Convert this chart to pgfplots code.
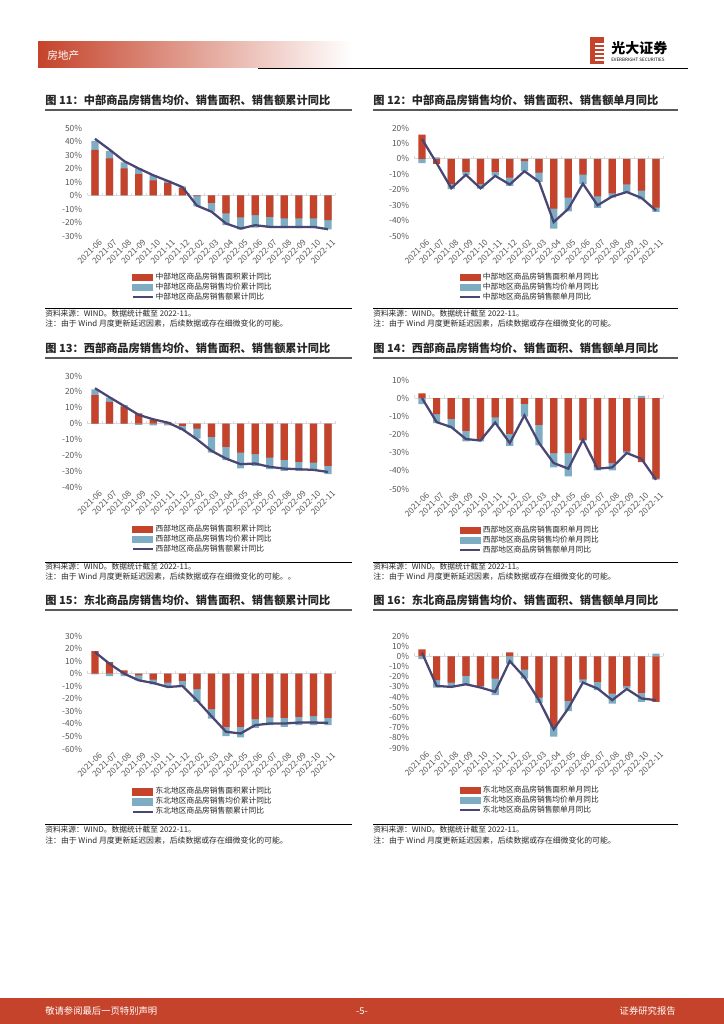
\documentclass[border=0pt]{standalone}
\usepackage{fontspec}
\setmainfont{Noto Sans CJK SC}
\usepackage{pgfplots}
\pgfplotsset{compat=1.18}
\usepackage{pgfplotstable}

\definecolor{cred}{HTML}{C5432A}
\definecolor{cblue}{HTML}{7EADC3}
\definecolor{cline}{HTML}{4A4674}
\definecolor{tgray}{HTML}{595959}
\definecolor{tdark}{HTML}{262626}
\definecolor{zgray}{HTML}{D9D9D9}

\newcommand{\fs}[1]{\fontsize{#1}{#1}\selectfont}

% i = month index, r = area yoy, p = price yoy, s = sales yoy
\pgfplotstableread{
i r p s
0 33.75 6.75 42
1 27.5 5.5 34
2 20 4.5 25.5
3 15.75 4.25 20
4 11.25 3.75 15
5 9.25 1.75 10.75
6 5.5 1.25 6.25
7 -0.5 -7.5 -7.5
8 -5.5 -6.5 -12
9 -13.25 -8.75 -20.75
10 -16.25 -8.75 -24.5
11 -14.5 -9.25 -22
12 -15.75 -8 -23.25
13 -17 -7.25 -23.25
14 -17 -7.25 -23.25
15 -17 -7.25 -23.25
16 -18.25 -6.75 -25
}\tA

\pgfplotstableread{
i r p s
0 15.7 -2.8 12.8
1 -3.2 0.9 -2.8
2 -16.2 -3.4 -19
3 -8.5 -2 -10.3
4 -16.3 -3 -19.1
5 -8.5 -2.3 -11
6 -12.2 -5.3 -16.6
7 -1.5 -6.5 -8
8 -8.9 -6 -14.8
9 -32.2 -13 -41
10 -25.1 -8.9 -32.4
11 -10.2 -6.2 -16.1
12 -24.3 -7.4 -30.1
13 -22.3 -2.8 -24.4
14 -16.5 -5 -21.5
15 -20.6 -5.7 -25.3
16 -31.6 -2.8 -33.5
}\tB

\pgfplotstableread{
i r p s
0 17.9 3.7 22.3
1 13.7 2.7 16.6
2 10.7 0.9 11.1
3 6.5 -0.8 5.5
4 2.7 -1.1 2.7
5 1.1 -1.1 0.6
6 -1.5 -2.7 -3.6
7 -3.2 -6.3 -9.9
8 -8.4 -9.9 -17.2
9 -14.7 -8.4 -22.1
10 -18.3 -9.9 -25.6
11 -19.3 -7.4 -25.2
12 -21.4 -7.4 -27.3
13 -22.9 -6.9 -28.4
14 -24.2 -5.6 -28.8
15 -24.6 -5.2 -29.2
16 -26.7 -5.2 -30.5
}\tC

\pgfplotstableread{
i r p s
0 2.7 -3.3 0
1 -8.8 -4.9 -13.2
2 -11.4 -5.1 -15.9
3 -18 -5.8 -22.5
4 -22.4 -1.4 -23.3
5 -10.6 -4.1 -13.4
6 -19.6 -6.6 -24.7
7 -3.1 -7 -9.5
8 -14.7 -11.3 -24.7
9 -30.2 -7.9 -35.7
10 -30.2 -12.9 -38.8
11 -22.9 -0.4 -22.9
12 -37.9 -1.9 -38.8
13 -35.7 -4.1 -38.1
14 -29.3 -0.9 -30.2
15 -35.2 1.3 -33.4
16 -44.3 -0.6 -44.9
}\tD

\pgfplotstableread{
i r p s
0 18 -0.5 17.2
1 9.3 -1.9 7.9
2 2.6 -1.9 0
3 -1.3 -4 -5.3
4 -4.8 -3.7 -7.4
5 -7.1 -3.5 -10.6
6 -5.8 -4.8 -9.8
7 -12.4 -10.1 -21.2
8 -28.3 -7.4 -33.9
9 -42.3 -7.4 -46.3
10 -42.3 -8.5 -47.6
11 -36.2 -6.9 -41
12 -34.9 -6.1 -39.7
13 -35.2 -7.1 -39.7
14 -34.4 -6.6 -38.9
15 -33.9 -7.1 -38.9
16 -35.2 -5.8 -39.2
}\tE

\pgfplotstableread{
i r p s
0 6.8 -2.6 3.6
1 -23.4 -7.2 -29
2 -25.7 -4.3 -30
3 -19.2 -9.1 -27.4
4 -29 -1 -30.6
5 -21.8 -16.3 -34.8
6 3.9 -7.2 -4.6
7 -13 -8.8 -20.5
8 -40.4 -5.2 -43
9 -68.4 -10.4 -71.6
10 -43.6 -10.1 -51.1
11 -22.5 -3.2 -25.7
12 -25.1 -8.1 -31.6
13 -36.5 -9.8 -43
14 -29.3 -2.3 -32
15 -35.8 -8.8 -41.3
16 -44.6 2.6 -43
}\tF

\pgfplotsset{
  chart/.style={
    scale only axis, anchor=south west,
    xmin=-0.5, xmax=16.5, clip=false,
    axis line style={draw=none}, major tick length=0pt,
    xtick={0,...,16},
    xticklabels={2021-06,2021-07,2021-08,2021-09,2021-10,2021-11,2021-12,2022-02,2022-03,2022-04,2022-05,2022-06,2022-07,2022-08,2022-09,2022-10,2022-11},
    x tick label style={rotate=45, anchor=north east, font=\fs{6.2}, text=tgray, inner sep=0.5pt, yshift=-2.5pt, xshift=1.2pt},
    y tick label style={font=\fs{6.3}, text=tgray, inner sep=1pt, xshift=-3pt},
    ytick distance=10,
    yticklabel={\pgfmathprintnumber{\tick}\%},
    /pgf/number format/assume math mode=true,
    legend style={draw=none, fill=none, anchor=north west, at={(0.16,-0.31)},
      font=\fs{5.8}, row sep=0.5pt,
      nodes={inner sep=0.5pt, text height=4.7pt, text depth=1.3pt, text=tdark},
      /tikz/every odd column/.append style={column sep=1pt}},
    legend cell align=left,
  },
  redbar/.style={ybar, bar width=5.4pt, bar shift=0pt, fill=cred, draw=none, forget plot},
  bluebar/.style={ybar, bar width=5.4pt, bar shift=0pt, fill=cblue, draw=none, forget plot},
  sline/.style={cline, line width=1.7pt, no marks, sharp plot, forget plot},
}

% blue segment: stacked on the red one when both have the same sign
\newcommand{\bluey}{ifthenelse(\thisrow{r}*\thisrow{p}>=0,\thisrow{r}+\thisrow{p},\thisrow{p})}

\newcommand{\chartbody}[4]{%
  \draw[zgray, line width=0.6pt] (axis cs:-0.5,0) -- (axis cs:16.5,0);
  \pgfplotsinvokeforeach{-0.5,0.5,...,16.5}{\draw[zgray, line width=0.6pt] (axis cs:##1,0) -- ++(0pt,2.2pt);}
  \addplot[bluebar] table[x=i, y expr={\bluey}] {#1};
  \addplot[redbar] table[x=i, y=r] {#1};
  \addplot[sline] table[x=i, y=s] {#1};
  \addlegendimage{legend image code/.code={\fill[cred] (0pt,-2.4pt) rectangle (15pt,2.4pt);}}
  \addlegendentry{#2}
  \addlegendimage{legend image code/.code={\fill[cblue] (0pt,-2.4pt) rectangle (15pt,2.4pt);}}
  \addlegendentry{#3}
  \addlegendimage{legend image code/.code={\draw[cline, line width=1.6pt] (0pt,0pt) -- (15pt,0pt);}}
  \addlegendentry{#4}
}

\begin{document}
\begin{tikzpicture}[x=0.75pt, y=-0.75pt]
\fill[white] (0,0) rectangle (724,1024);

% header
\shade[left color=cred, right color=white] (38,42) rectangle (352,68);
\node[anchor=west, text=white, font=\fs{8}, inner sep=0] at (47,55) {房地产};
\draw[black, line width=0.9pt] (258,68.5) -- (688,68.5);
\fill[cred] (590,37) rectangle (604,64);
\foreach \yy in {44,48,52,56,60} \draw[white, line width=0.8pt] (595,\yy) -- (604,\yy);
\node[anchor=west, font=\bfseries\fs{10.5}, inner sep=0] at (611,48) {光大证券};
\node[anchor=west, font=\fs{3.4}, inner sep=0] at (611,60) {EVERBRIGHT SECURITIES};

% footer
\fill[cred] (0,998) rectangle (724,1024);
\node[anchor=west, text=white, font=\fs{7}, inner sep=0] at (45,1011) {敬请参阅最后一页特别声明};
\node[text=white, font=\fs{7}, inner sep=0] at (362,1011) {-5-};
\node[anchor=east, text=white, font=\fs{7}, inner sep=0] at (676,1011) {证券研究报告};

% titles, rules and notes
\foreach \xa/\xb/\ya/\yb/\yc/\yd/\ye/\ttl/\nt in {
  45/352/100/110/308/314/324/{图 11：中部商品房销售均价、销售面积、销售额累计同比}/{注：由于 Wind 月度更新延迟因素，后续数据或存在细微变化的可能。},
  373/678/100/110/308/314/324/{图 12：中部商品房销售均价、销售面积、销售额单月同比}/{注：由于 Wind 月度更新延迟因素，后续数据或存在细微变化的可能。},
  45/352/348/358/562/567/577/{图 13：西部商品房销售均价、销售面积、销售额累计同比}/{注：由于 Wind 月度更新延迟因素，后续数据或存在细微变化的可能。。},
  373/678/348/358/562/567/577/{图 14：西部商品房销售均价、销售面积、销售额单月同比}/{注：由于 Wind 月度更新延迟因素，后续数据或存在细微变化的可能。},
  45/352/600/610/824/830/841/{图 15：东北商品房销售均价、销售面积、销售额累计同比}/{注：由于 Wind 月度更新延迟因素，后续数据或存在细微变化的可能。},
  373/678/600/610/824/830/841/{图 16：东北商品房销售均价、销售面积、销售额单月同比}/{注：由于 Wind 月度更新延迟因素，后续数据或存在细微变化的可能。}} {
  \node[anchor=west, font=\bfseries\fs{8.4}, text=tdark, inner sep=0] at (\xa,\ya) {\ttl};
  \draw[tgray, line width=0.8pt] (\xa,\yb) -- (\xb,\yb);
  \draw[black, line width=0.7pt] (\xa,\yc) -- (\xb,\yc);
  \node[anchor=west, font=\fs{5.8}, text=tdark, inner sep=0] at (\xa,\yd) {资料来源：WIND。数据统计截至 2022-11。};
  \node[anchor=west, font=\fs{5.9}, text=tdark, inner sep=0] at (\xa,\ye) {\nt};
}

% chart 11
\begin{axis}[chart, at={(65.775pt,-177pt)}, width=185.7pt, height=81pt, ymin=-30, ymax=50]
\chartbody{\tA}{中部地区商品房销售面积累计同比}{中部地区商品房销售均价累计同比}{中部地区商品房销售额累计同比}
\end{axis}

% chart 12
\begin{axis}[chart, at={(311.025pt,-177pt)}, width=186.5pt, height=81pt, ymin=-50, ymax=20]
\chartbody{\tB}{中部地区商品房销售面积单月同比}{中部地区商品房销售均价单月同比}{中部地区商品房销售额单月同比}
\end{axis}

% chart 13
\begin{axis}[chart, at={(65.775pt,-365.25pt)}, width=185.7pt, height=83.25pt, ymin=-40, ymax=30]
\chartbody{\tC}{西部地区商品房销售面积累计同比}{西部地区商品房销售均价累计同比}{西部地区商品房销售额累计同比}
\end{axis}

% chart 14
\begin{axis}[chart, at={(311.025pt,-366.75pt)}, width=186.5pt, height=81.75pt, ymin=-50, ymax=10]
\chartbody{\tD}{西部地区商品房销售面积单月同比}{西部地区商品房销售均价单月同比}{西部地区商品房销售额单月同比}
\end{axis}

% chart 15
\begin{axis}[chart, at={(65.775pt,-561.75pt)}, width=185.7pt, height=84.75pt, ymin=-60, ymax=30]
\chartbody{\tE}{东北地区商品房销售面积累计同比}{东北地区商品房销售均价累计同比}{东北地区商品房销售额累计同比}
\end{axis}

% chart 16
\begin{axis}[chart, at={(311.025pt,-561pt)}, width=186.5pt, height=84pt, ymin=-90, ymax=20]
\chartbody{\tF}{东北地区商品房销售面积单月同比}{东北地区商品房销售均价单月同比}{东北地区商品房销售额单月同比}
\end{axis}
\end{tikzpicture}
\end{document}
